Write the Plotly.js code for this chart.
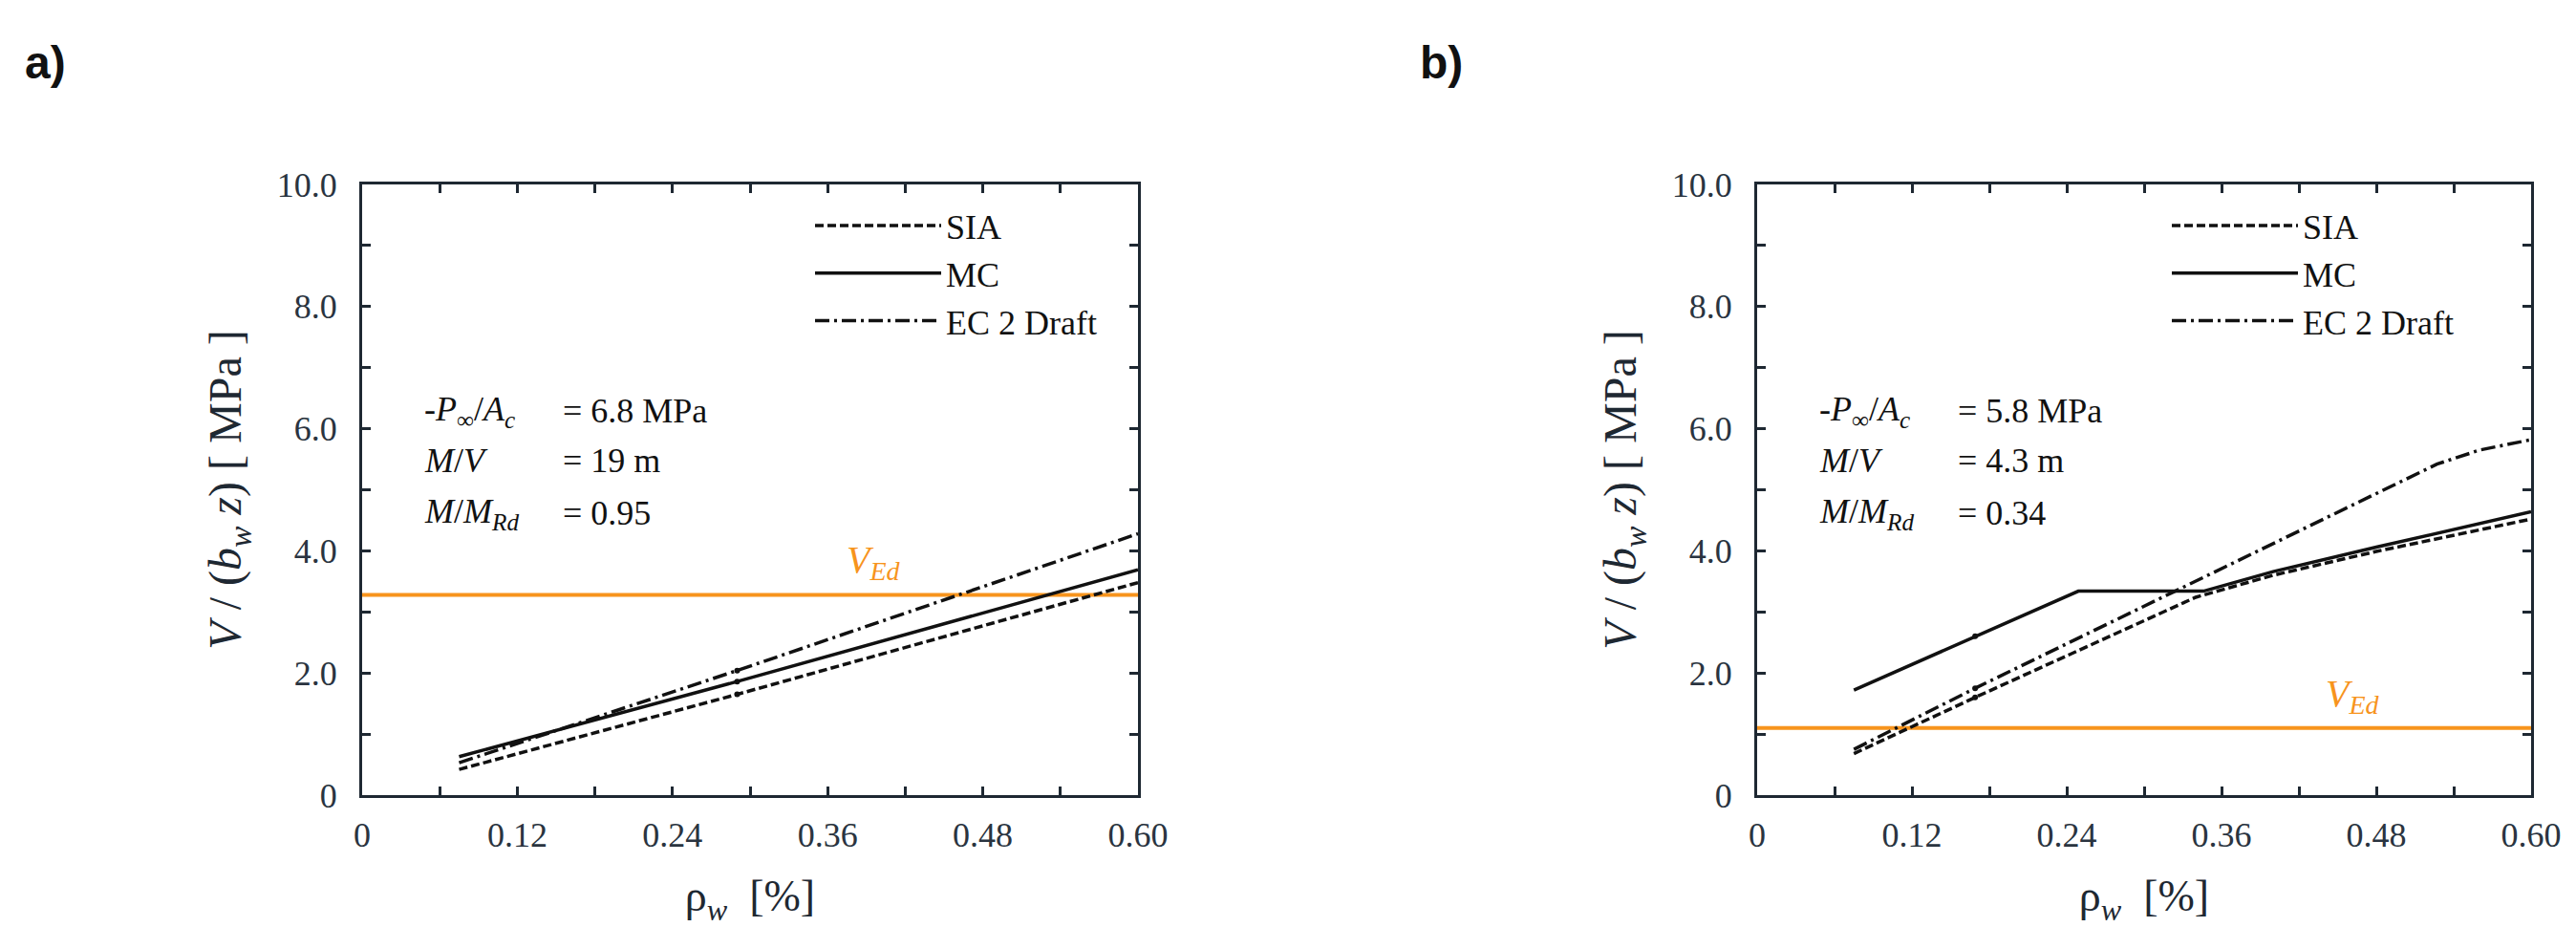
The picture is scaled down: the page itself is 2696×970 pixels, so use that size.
<!DOCTYPE html>
<html>
<head>
<meta charset="utf-8">
<script src="https://cdn.plot.ly/plotly-3.0.1.min.js"></script>
<style>html,body{margin:0;padding:0;background:#fff;}#chart{width:2696px;height:970px;}</style>
</head>
<body>
<div id="chart"></div>
<script>
// ---------- data ----------
// panel a)
var rhoA = [0.075, 0.29, 0.60];
var siaA = [0.42, 1.65, 3.48];
var mcA  = [0.63, 1.86, 3.69];
var ecA  = [0.53, 2.04, 4.28];
var vEdA = 3.28;
var markIdxA = 1;

// panel b)
var rhoSiaB = [0.075, 0.169, 0.34, 0.40, 0.48, 0.60];
var siaB    = [0.68, 1.60, 3.24, 3.60, 3.99, 4.52];
var rhoMcB  = [0.075, 0.169, 0.249, 0.346, 0.40, 0.48, 0.60];
var mcB     = [1.72, 2.60, 3.34, 3.34, 3.66, 4.06, 4.64];
var rhoEcB  = [0.075, 0.169, 0.324, 0.527, 0.56, 0.60];
var ecB     = [0.75, 1.75, 3.34, 5.42, 5.65, 5.82];
var vEdB = 1.10;
var markIdxB = 1;

var rhoRange = [0, 0.60];
var vRange = [0, 10];

var seriesNames = ['SIA', 'MC', 'EC 2 Draft'];
var xTickVals = [0, 0.06, 0.12, 0.18, 0.24, 0.30, 0.36, 0.42, 0.48, 0.54, 0.60];
var xTickText = ['0', '', '0.12', '', '0.24', '', '0.36', '', '0.48', '', '0.60'];
var yTickVals = [0, 1, 2, 3, 4, 5, 6, 7, 8, 9, 10];
var yTickText = ['0', '', '2.0', '', '4.0', '', '6.0', '', '8.0', '', '10.0'];

var paramLabels = ['-<i>P</i><sub>\u221e</sub>/<i>A</i><sub><i>c</i></sub>', '<i>M</i>/<i>V</i>', '<i>M</i>/<i>M</i><sub><i>Rd</i></sub>'];
var paramValsA = ['= 6.8 MPa', '= 19 m', '= 0.95'];
var paramValsB = ['= 5.8 MPa', '= 4.3 m', '= 0.34'];

// ---------- styling ----------
var W = 2696, H = 970;
function PX(p) { return p / W; }
function PY(p) { return 1 - p / H; }

var SERIF = 'Liberation Serif, Times New Roman, serif';
var AX = '#1e2832';
var INK = '#111111';
var ORANGE = '#f7941d';
var dashSIA = '9px,4px';
var dashEC = '15px,5px,3px,5px';

function lineTrace(x, y, name, dash, xa, ya, leg, show) {
  return {
    x: x, y: y, name: name, type: 'scatter', mode: 'lines',
    line: {color: INK, width: 3.5, dash: dash},
    xaxis: xa, yaxis: ya, legend: leg, showlegend: show
  };
}
function markTrace(x, y, xa, ya) {
  return {
    x: x, y: y, type: 'scatter', mode: 'markers',
    marker: {color: INK, size: 6},
    xaxis: xa, yaxis: ya, showlegend: false, hoverinfo: 'skip'
  };
}

var traces = [
  // panel a
  {x: rhoRange, y: [vEdA, vEdA], type: 'scatter', mode: 'lines', line: {color: ORANGE, width: 4}, xaxis: 'x', yaxis: 'y', showlegend: false},
  lineTrace(rhoA, siaA, seriesNames[0], dashSIA, 'x', 'y', 'legend', true),
  lineTrace(rhoA, mcA, seriesNames[1], 'solid', 'x', 'y', 'legend', true),
  lineTrace(rhoA, ecA, seriesNames[2], dashEC, 'x', 'y', 'legend', true),
  markTrace([rhoA[markIdxA], rhoA[markIdxA], rhoA[markIdxA]], [siaA[markIdxA], mcA[markIdxA], ecA[markIdxA]], 'x', 'y'),
  // panel b
  {x: rhoRange, y: [vEdB, vEdB], type: 'scatter', mode: 'lines', line: {color: ORANGE, width: 4}, xaxis: 'x2', yaxis: 'y2', showlegend: false},
  lineTrace(rhoSiaB, siaB, seriesNames[0], dashSIA, 'x2', 'y2', 'legend2', true),
  lineTrace(rhoMcB, mcB, seriesNames[1], 'solid', 'x2', 'y2', 'legend2', true),
  lineTrace(rhoEcB, ecB, seriesNames[2], dashEC, 'x2', 'y2', 'legend2', true),
  markTrace([rhoSiaB[markIdxB], rhoMcB[markIdxB], rhoEcB[markIdxB]], [siaB[markIdxB], mcB[markIdxB], ecB[markIdxB]], 'x2', 'y2')
];

function xAxis(domain, anchor) {
  return {
    domain: domain, anchor: anchor, range: rhoRange,
    tickmode: 'array', tickvals: xTickVals, ticktext: xTickText,
    ticks: 'inside', ticklen: 9, tickwidth: 3, tickcolor: AX,
    showline: true, linewidth: 3, linecolor: AX, mirror: 'ticks',
    showgrid: false, zeroline: false, ticklabelstandoff: 8,
    tickfont: {family: SERIF, size: 36, color: '#2a3440'},
    title: {text: '\u03c1<sub><i>w</i></sub>  [%]', font: {family: SERIF, size: 46, color: '#1e2832'}, standoff: 36},
    automargin: false, fixedrange: true
  };
}
function yAxis(anchor) {
  return {
    domain: [PY(832), PY(193)], anchor: anchor, range: vRange,
    tickmode: 'array', tickvals: yTickVals, ticktext: yTickText,
    ticks: 'inside', ticklen: 9, tickwidth: 3, tickcolor: AX,
    showline: true, linewidth: 3, linecolor: AX, mirror: 'ticks',
    showgrid: false, zeroline: false, ticklabelstandoff: 16,
    tickfont: {family: SERIF, size: 36, color: '#2a3440'},
    title: {text: '<i>V</i> / (<i>b</i><sub><i>w</i></sub> <i>z</i>) [ MPa ]', font: {family: SERIF, size: 48, color: '#1e2832'}, standoff: 22},
    automargin: false, fixedrange: true
  };
}

function legendCfg(xpx) {
  return {
    x: PX(xpx), y: PY(206), xanchor: 'left', yanchor: 'top',
    xref: 'paper', yref: 'paper',
    bgcolor: 'rgba(0,0,0,0)', borderwidth: 0,
    font: {family: SERIF, size: 36, color: INK},
    itemwidth: 132, traceorder: 'normal', tracegroupgap: 0
  };
}

var annotations = [];
function addPanelText(label, lx, eqx, vals, vEdX, vEdY) {
  annotations.push({text: '<b>' + label + '</b>', x: PX(lx), y: PY(66), xref: 'paper', yref: 'paper', xanchor: 'left', yanchor: 'middle', showarrow: false, font: {family: 'Liberation Sans, Arial, sans-serif', size: 48, color: '#111'}});
  var ys = [430, 482, 537];
  for (var i = 0; i < paramLabels.length; i++) {
    annotations.push({text: paramLabels[i], x: PX(eqx[0]), y: PY(ys[i]), xref: 'paper', yref: 'paper', xanchor: 'left', yanchor: 'middle', showarrow: false, font: {family: SERIF, size: 36, color: INK}});
    annotations.push({text: vals[i], x: PX(eqx[1]), y: PY(ys[i]), xref: 'paper', yref: 'paper', xanchor: 'left', yanchor: 'middle', showarrow: false, font: {family: SERIF, size: 36, color: INK}});
  }
  annotations.push({text: '<i>V</i><sub><i>Ed</i></sub>', x: PX(vEdX), y: PY(vEdY), xref: 'paper', yref: 'paper', xanchor: 'left', yanchor: 'middle', showarrow: false, font: {family: SERIF, size: 40, color: ORANGE}});
}
addPanelText('a)', 24, [442, 587], paramValsA, 884, 588);
addPanelText('b)', 1484, [1902, 2047], paramValsB, 2432, 728);

var layout = {
  width: W, height: H,
  margin: {l: 0, r: 0, t: 0, b: 0, pad: 0},
  paper_bgcolor: '#ffffff', plot_bgcolor: '#ffffff',
  xaxis: xAxis([PX(379), PX(1191)], 'y'),
  yaxis: yAxis('x'),
  xaxis2: xAxis([PX(1839), PX(2649)], 'y2'),
  yaxis2: yAxis('x2'),
  legend: legendCfg(848),
  legend2: legendCfg(2268),
  annotations: annotations,
  showlegend: true
};

Plotly.newPlot('chart', traces, layout, {staticPlot: true, displayModeBar: false});
</script>
</body>
</html>
